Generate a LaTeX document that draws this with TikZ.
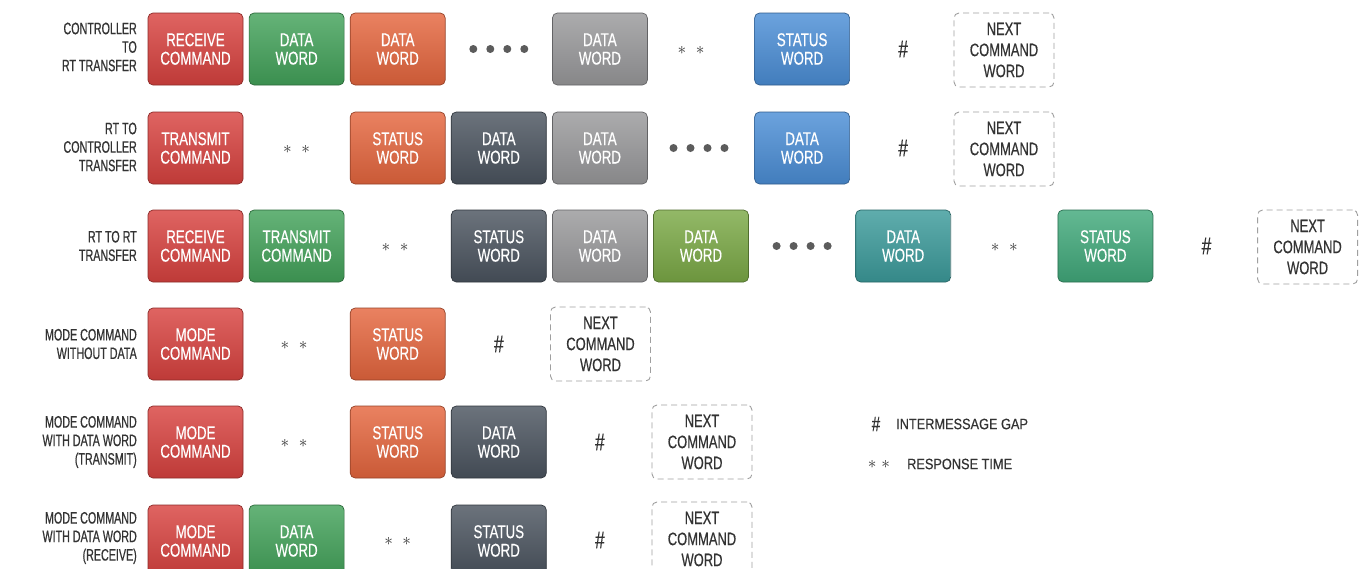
\documentclass[tikz,border=0pt]{standalone}
\usepackage{fontspec}
\setmainfont{Liberation Sans}[FakeStretch=0.72, FakeBold=0.4]
\newfontfamily\lblfont{Liberation Sans}[FakeStretch=0.65, FakeBold=0.6]
\newfontfamily\legfont{Liberation Sans}[FakeStretch=0.85, FakeBold=0.4]
\newcommand\wfont{\fontsize{18.5}{18.5}\selectfont}
\newcommand\lfont{\lblfont\fontsize{16.5}{18.5}\selectfont}
\definecolor{cred}{HTML}{D8423F}
\definecolor{cgreen}{HTML}{43A25A}
\definecolor{corange}{HTML}{E5663E}
\definecolor{cgray}{HTML}{99999B}
\definecolor{cblue}{HTML}{4B8ED6}
\definecolor{cdark}{HTML}{4B545F}
\definecolor{colive}{HTML}{7BA946}
\definecolor{cteal}{HTML}{3C9B9B}
\definecolor{csgreen}{HTML}{41A97B}
\definecolor{ink}{HTML}{333333}
\tikzset{
  wbox/.style={rounded corners=5pt, minimum width=95pt, minimum height=72pt,
    inner sep=0pt, align=center, text=white, font=\wfont,
    draw=#1!65!black, line width=0.7pt, top color=#1!82!white, bottom color=#1!88!black},
  nextbox/.style={rounded corners=5pt, minimum width=100pt, minimum height=74pt,
    inner sep=0pt, align=center, text=ink, font=\fontsize{18}{21}\selectfont, draw=gray!75,
    dash pattern=on 6pt off 4pt, line width=0.9pt},
  rowlabel/.style={anchor=east, align=right, text=ink, font=\lfont, inner sep=0pt},
  gap/.style={text=ink, font=\fontsize{24}{24}\selectfont, inner sep=0pt},
  resp/.style={text=ink, font=\fontsize{17}{17}\selectfont, inner sep=0pt},
  legtext/.style={anchor=west, text=ink, font=\legfont\fontsize{15}{16}\selectfont, inner sep=0pt},
  dotmark/.style={circle, fill=ink!80, minimum size=8pt, inner sep=0pt}
}
\begin{document}
\begin{tikzpicture}[x=1pt, y=-1pt]
\useasboundingbox[fill=white] (0,0) rectangle (1361,568);
% ---------- Row 1
\node[rowlabel] (l1) at (137,47) {CONTROLLER\\TO\\RT TRANSFER};
\node[wbox=cred] (r1a) at (195.5,49) {RECEIVE\\COMMAND};
\node[wbox=cgreen] (r1b) at (296.6,49) {DATA\\WORD};
\node[wbox=corange] (r1c) at (397.7,49) {DATA\\WORD};
\foreach \d [count=\k] in {-25.5,-8.5,8.5,25.5}
  \node[dotmark] (r1d\k) at (498.8+\d,49) {};
\node[wbox=cgray] (r1e) at (599.9,49) {DATA\\WORD};
\node[resp] (r1f) at (691,50) {$\ast\;\;\ast$};
\node[wbox=cblue] (r1g) at (802.1,49) {STATUS\\WORD};
\node[gap] (r1h) at (903.2,49) {\#};
\node[nextbox] (r1i) at (1004,50) {NEXT\\COMMAND\\WORD};
% ---------- Row 2
\node[rowlabel] (l2) at (137,147) {RT TO\\CONTROLLER\\TRANSFER};
\node[wbox=cred] (r2a) at (195.5,148) {TRANSMIT\\COMMAND};
\node[resp] (r2b) at (296.6,149) {$\ast\;\;\ast$};
\node[wbox=corange] (r2c) at (397.7,148) {STATUS\\WORD};
\node[wbox=cdark] (r2d) at (498.8,148) {DATA\\WORD};
\node[wbox=cgray] (r2e) at (599.9,148) {DATA\\WORD};
\foreach \d [count=\k] in {-25.5,-8.5,8.5,25.5}
  \node[dotmark] (r2f\k) at (699+\d,148) {};
\node[wbox=cblue] (r2g) at (802.1,148) {DATA\\WORD};
\node[gap] (r2h) at (903.2,148) {\#};
\node[nextbox] (r2i) at (1004,149) {NEXT\\COMMAND\\WORD};
% ---------- Row 3
\node[rowlabel] (l3) at (137,246) {RT TO RT\\TRANSFER};
\node[wbox=cred] (r3a) at (195.5,246) {RECEIVE\\COMMAND};
\node[wbox=cgreen] (r3b) at (296.6,246) {TRANSMIT\\COMMAND};
\node[resp] (r3c) at (395,247) {$\ast\;\;\ast$};
\node[wbox=cdark] (r3d) at (498.8,246) {STATUS\\WORD};
\node[wbox=cgray] (r3e) at (599.9,246) {DATA\\WORD};
\node[wbox=colive] (r3f) at (701,246) {DATA\\WORD};
\foreach \d [count=\k] in {-25.5,-8.5,8.5,25.5}
  \node[dotmark] (r3g\k) at (802.1+\d,246) {};
\node[wbox=cteal] (r3h) at (903.2,246) {DATA\\WORD};
\node[resp] (r3i) at (1004.3,247) {$\ast\;\;\ast$};
\node[wbox=csgreen] (r3j) at (1105.4,246) {STATUS\\WORD};
\node[gap] (r3k) at (1206.5,246) {\#};
\node[nextbox] (r3l) at (1307.6,247) {NEXT\\COMMAND\\WORD};
% ---------- Row 4
\node[rowlabel] (l4) at (137,344) {MODE COMMAND\\WITHOUT DATA};
\node[wbox=cred] (r4a) at (195.5,344) {MODE\\COMMAND};
\node[resp] (r4b) at (294,345) {$\ast\;\;\ast$};
\node[wbox=corange] (r4c) at (397.7,344) {STATUS\\WORD};
\node[gap] (r4d) at (498.8,344) {\#};
\node[nextbox] (r4e) at (600.5,344) {NEXT\\COMMAND\\WORD};
% ---------- Row 5
\node[rowlabel] (l5) at (137,442) {MODE COMMAND\\WITH DATA WORD\\(TRANSMIT)};
\node[wbox=cred] (r5a) at (195.5,442) {MODE\\COMMAND};
\node[resp] (r5b) at (294,443) {$\ast\;\;\ast$};
\node[wbox=corange] (r5c) at (397.7,442) {STATUS\\WORD};
\node[wbox=cdark] (r5d) at (498.8,442) {DATA\\WORD};
\node[gap] (r5e) at (599.9,442) {\#};
\node[nextbox] (r5f) at (702,442) {NEXT\\COMMAND\\WORD};
% ---------- Row 6
\node[rowlabel] (l6) at (137,538) {MODE COMMAND\\WITH DATA WORD\\(RECEIVE)};
\node[wbox=cred] (r6a) at (195.5,541) {MODE\\COMMAND};
\node[wbox=cgreen] (r6b) at (296.6,541) {DATA\\WORD};
\node[resp] (r6c) at (397.7,541) {$\ast\;\;\ast$};
\node[wbox=cdark] (r6d) at (498.8,541) {STATUS\\WORD};
\node[gap] (r6e) at (599.9,540) {\#};
\node[nextbox] (r6f) at (702,539) {NEXT\\COMMAND\\WORD};
% ---------- Legend
\node[gap, font=\fontsize{21}{21}\selectfont] (k1) at (876,424) {\#};
\node[legtext] (k1t) at (896,424) {INTERMESSAGE GAP};
\node[resp, font=\fontsize{16}{16}\selectfont] (k2) at (879,464) {$\ast\;\ast$};
\node[legtext] (k2t) at (907,464) {RESPONSE TIME};
\end{tikzpicture}
\end{document}
